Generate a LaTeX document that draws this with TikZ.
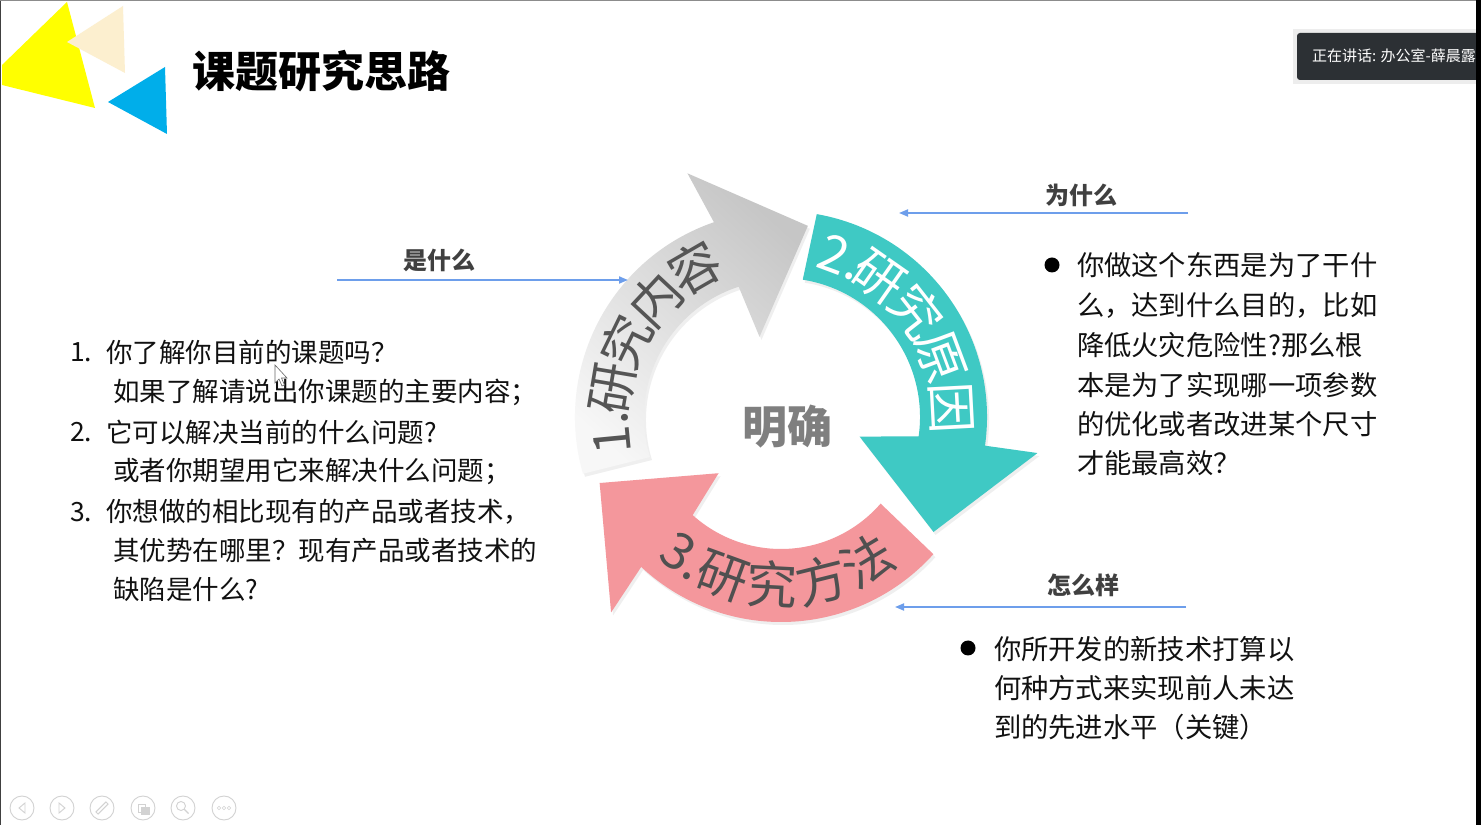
\documentclass[tikz,border=0pt]{standalone}
\usepackage{fontspec}
\setmainfont{Noto Sans CJK SC}
\usetikzlibrary{arrows.meta,shadows}
\definecolor{teal2}{HTML}{3FC9C4}
\definecolor{pink2}{HTML}{F4979C}
\definecolor{arrowlight}{HTML}{F7F7F7}
\definecolor{arrowdark}{HTML}{C6C6C6}
\definecolor{blueline}{HTML}{6D9EEB}
\definecolor{graytxt}{HTML}{555555}
\definecolor{pinktxt}{HTML}{505050}
\definecolor{labgray}{HTML}{404040}
\definecolor{ctrgray}{HTML}{7F7F7F}
\definecolor{bodyblack}{HTML}{111111}
\definecolor{ylw}{HTML}{FFFF00}
\definecolor{beige}{HTML}{FCEFCF}
\definecolor{skyb}{HTML}{00AEEA}
\definecolor{boxdark}{HTML}{2C3034}
\definecolor{icongray}{HTML}{D2D2D2}
\begin{document}
\begin{tikzpicture}[x=1pt,y=1pt,
  every node/.style={inner sep=0pt, outer sep=0pt},
  body/.style={anchor=west, font=\fontsize{26.5}{30}\selectfont, text=bodyblack},
  rbody/.style={anchor=west, font=\fontsize{27.3}{30}\selectfont, text=bodyblack},
  lab/.style={font=\bfseries\fontsize{24}{28}\selectfont, text=labgray},
  guide/.style={draw=blueline, line width=1.8pt, -{Triangle[length=9pt,width=7pt]}},
  arcchar/.style={font=\fontsize{51}{51}\selectfont, text height=42pt, text depth=5pt, inner sep=0pt},
  icon/.style={draw=icongray, line width=0.9pt},
]
\useasboundingbox (0,0) rectangle (1481,825);
\fill[white] (0,0) rectangle (1481,825);

% decorative triangles
\fill[ylw] (67,823) -- (2,760) -- (2,740) -- (95,717) -- cycle;
\fill[beige] (123,819) -- (67,783) -- (125,752) -- cycle;
\fill[skyb] (165,758) -- (108,723) -- (167,691) -- cycle;

% title
\node[anchor=west, font=\bfseries\fontsize{43}{46}\selectfont, text=black] (title) at (192,754) {课题研究思路};

% speaker box
\fill[black, opacity=0.07] (1293,741) rectangle (1481,796);
\begin{scope}
\clip (1297,745) rectangle (1476,792);
\fill[boxdark, rounded corners=3pt] (1297,745) rectangle (1490,792);
\node[anchor=west, font=\fontsize{15}{18}\selectfont, text=white] (spk) at (1312,768.5) {正在讲话: 办公室-薛晨露;};
\end{scope}

% circular arrows
\begin{scope}[shift={(781,408)}]
\path[shade, top color=arrowlight, bottom color=arrowdark, shading angle=138,
      drop shadow={opacity=0.12, shadow xshift=2pt, shadow yshift=-3pt}]
  (196:206) arc[start angle=196, end angle=109, radius=206pt]
  -- (111:261) -- (82:193) -- (105:83) -- (108:137)
  arc[start angle=108, end angle=197, radius=137pt] -- cycle;
\path[fill=teal2, drop shadow={opacity=0.12, shadow xshift=2pt, shadow yshift=-3pt}]
  (80:206) arc[start angle=80, end angle=-8, radius=206pt]
  -- (-8:259) -- (-37:191) -- (-14:81) -- (-8:139)
  arc[start angle=-8, end angle=81, radius=139pt] -- cycle;
\path[fill=pink2, drop shadow={opacity=0.12, shadow xshift=2pt, shadow yshift=-3pt}]
  (-42:205) arc[start angle=-42, end angle=-133, radius=205pt]
  -- (-131:259) -- (-160:193) -- (-138:84) -- (-132:132)
  arc[start angle=-132, end angle=-41, radius=132pt] -- cycle;

\foreach \a/\c [count=\i] in {185.5/1., 170.5/研, 154/究, 137/内, 120/容}
  \node[arcchar, text=graytxt, rotate=\a-90] (g\i) at (\a:171) {\makebox[38pt]{\c}};
\foreach \a/\c [count=\i] in {69.5/2., 55/研, 38/究, 20.5/原, 3/因}
  \node[arcchar, text=white, rotate=\a-90] (t\i) at (\a:171) {\makebox[38pt]{\c}};
\foreach \a/\c [count=\i] in {235/3., 250/研, 267/究, 284/方, 301/法}
  \node[arcchar, text=pinktxt, rotate=\a+90] (p\i) at (\a:169) {\makebox[38pt]{\c}};

\node[font=\bfseries\fontsize{45}{45}\selectfont, text=ctrgray] (ctr) at (6,-10) {明确};
\end{scope}

% guide lines and labels
\node[lab] (lab1) at (439,565) {是什么};
\coordinate (l1a) at (337,545); \coordinate (l1b) at (628,545);
\draw[guide] (l1a) -- (l1b);
\node[lab] (lab2) at (1081,630) {为什么};
\coordinate (l2a) at (1188,612); \coordinate (l2b) at (899,612);
\draw[guide] (l2a) -- (l2b);
\node[lab] (lab3) at (1083,240) {怎么样};
\coordinate (l3a) at (1186,218); \coordinate (l3b) at (895,218);
\draw[guide] (l3a) -- (l3b);

% left list
\node[body] (n1) at (70,473) {1.};
\node[body] (a1) at (106,473) {你了解你目前的课题吗？};
\node[body] (a2) at (113,433) {如果了解请说出你课题的主要内容；};
\node[body] (n2) at (70,393) {2.};
\node[body] (a3) at (106,393) {它可以解决当前的什么问题?};
\node[body] (a4) at (113,354) {或者你期望用它来解决什么问题；};
\node[body] (n3) at (70,313) {3.};
\node[body] (a5) at (106,313) {你想做的相比现有的产品或者技术，};
\node[body] (a6) at (113,275) {其优势在哪里？现有产品或者技术的};
\node[body] (a7) at (113,236) {缺陷是什么?};

% right list 1
\fill[black] (1052,560) circle (7.5);
\node[rbody] (b1) at (1077,560) {你做这个东西是为了干什};
\node[rbody] (b2) at (1077,520) {么，达到什么目的，比如};
\node[rbody] (b3) at (1077,480) {降低火灾危险性?那么根};
\node[rbody] (b4) at (1077,440) {本是为了实现哪一项参数};
\node[rbody] (b5) at (1077,401) {的优化或者改进某个尺寸};
\node[rbody] (b6) at (1077,362) {才能最高效？};

% right list 2
\fill[black] (968,177) circle (7.5);
\node[rbody] (c1) at (994,176) {你所开发的新技术打算以};
\node[rbody] (c2) at (994,137) {何种方式来实现前人未达};
\node[rbody] (c3) at (994,98) {到的先进水平（关键）};

% mouse cursor
\filldraw[fill=white, draw=black!60, line width=0.6pt]
  (275,460) -- (275,442) -- (279,446) -- (282,439) -- (284.5,440) -- (281.5,447) -- (287,447) -- cycle;

% bottom toolbar icons
\foreach \x in {22,62,102,143,183,224} \draw[icon] (\x,17) circle (12);
\draw[icon] (25,22) -- (19,17) -- (25,12) -- cycle;
\draw[icon] (59,22) -- (65,17) -- (59,12) -- cycle;
\draw[icon, rotate around={45:(102,17)}] (95,15.5) rectangle (109,18.5);
\draw[icon] (138,13) rectangle (145,21);
\draw[icon, fill=icongray] (141,11) rectangle (149,18);
\draw[icon] (181,19) circle (4.5);
\draw[icon, line width=1.4pt] (184.3,15.7) -- (188.5,11.5);
\foreach \x in {219,224,229} \draw[icon, line width=0.6pt] (\x,17) circle (1.8);

% screen borders
\fill[black!75] (0,0) rectangle (1.2,825);
\draw[black!45, line width=1.5pt] (0,824.25) -- (1476,824.25);
\fill[black] (1476,0) rectangle (1481,825);
\end{tikzpicture}
\end{document}
